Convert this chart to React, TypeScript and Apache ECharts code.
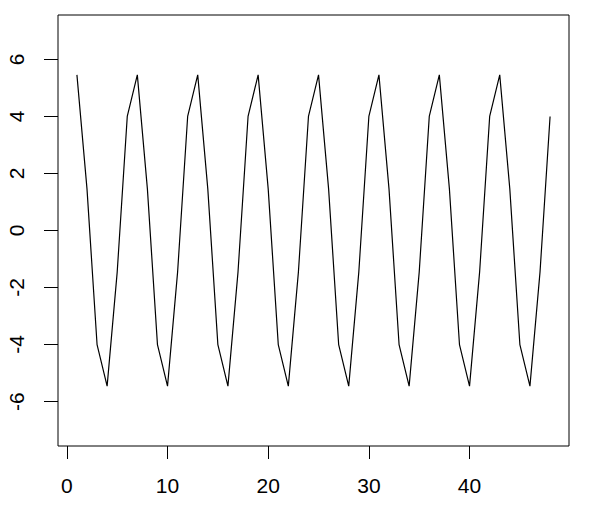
import React, { useEffect, useRef } from "react";
import * as echarts from "echarts";

const xValues = Array.from({ length: 48 }, (_, i) => i + 1);
const yValues = [
  5.46, 1.46, -4, -5.46, -1.46, 4,
  5.46, 1.46, -4, -5.46, -1.46, 4,
  5.46, 1.46, -4, -5.46, -1.46, 4,
  5.46, 1.46, -4, -5.46, -1.46, 4,
  5.46, 1.46, -4, -5.46, -1.46, 4,
  5.46, 1.46, -4, -5.46, -1.46, 4,
  5.46, 1.46, -4, -5.46, -1.46, 4,
  5.46, 1.46, -4, -5.46, -1.46, 4,
];
const xTicks = [0, 10, 20, 30, 40];
const yTicks = [-6, -4, -2, 0, 2, 4, 6];

export default function App() {
  const ref = useRef<HTMLDivElement>(null);
  useEffect(() => {
    if (!ref.current) return;
    const chart = echarts.init(ref.current, null, { renderer: "svg" });
    const font = "'Liberation Sans', Arial, sans-serif";
    chart.setOption({
      animation: false,
      grid: {
        left: 58,
        top: 15,
        right: 20,
        bottom: 71,
        show: true,
        borderColor: "#000",
        borderWidth: 1,
        backgroundColor: "transparent",
      },
      xAxis: {
        type: "value",
        min: -0.88,
        max: 49.88,
        axisLine: { show: false, onZero: false },
        splitLine: { show: false },
        axisTick: {
          show: true,
          length: 13,
          customValues: xTicks,
          lineStyle: { color: "#000", width: 1 },
        },
        axisLabel: {
          customValues: xTicks,
          color: "#000",
          fontSize: 21,
          fontFamily: font,
          margin: 29,
        },
      },
      yAxis: {
        type: "value",
        min: -7.56,
        max: 7.56,
        axisLine: { show: false, onZero: false },
        splitLine: { show: false },
        axisTick: {
          show: true,
          length: 14,
          customValues: yTicks,
          lineStyle: { color: "#000", width: 1 },
        },
        axisLabel: {
          customValues: yTicks,
          color: "#000",
          fontSize: 21,
          fontFamily: font,
          rotate: 90,
          margin: 31,
        },
      },
      series: [
        {
          type: "line",
          data: xValues.map((x, i) => [x, yValues[i]]),
          showSymbol: false,
          lineStyle: { color: "#000", width: 1.2 },
        },
      ],
    });
    return () => chart.dispose();
  }, []);
  return <div ref={ref} style={{ width: 589, height: 517, margin: -8 }} />;
}
